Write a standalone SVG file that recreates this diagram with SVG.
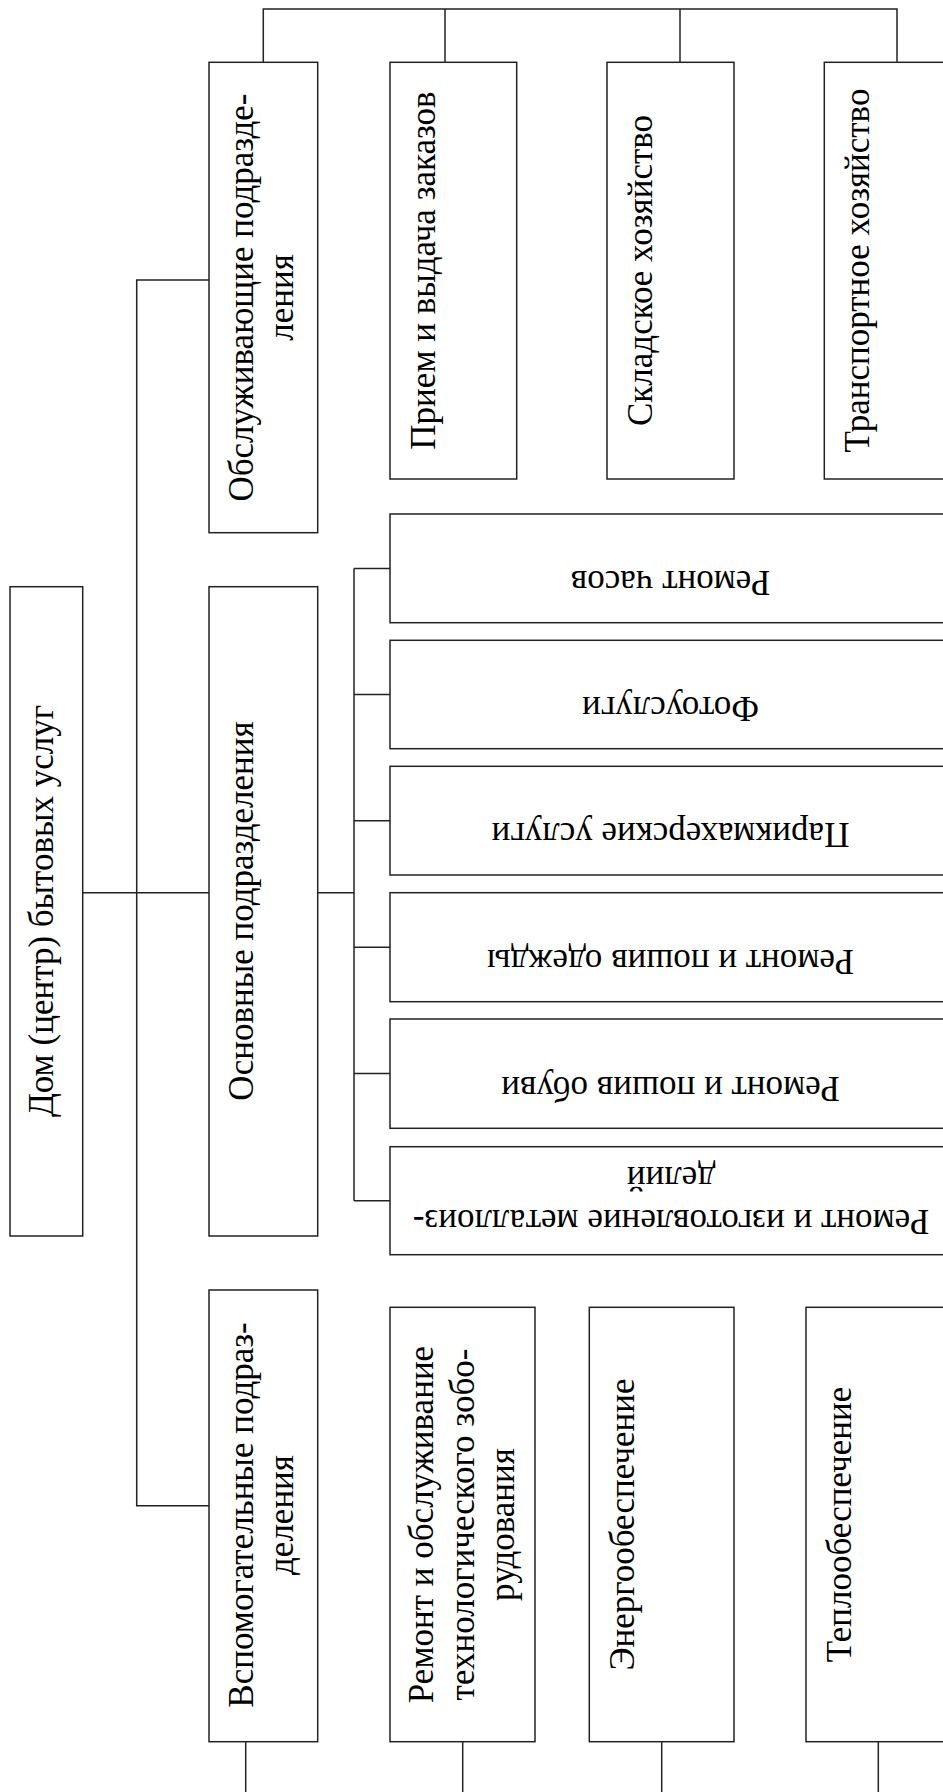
<svg xmlns="http://www.w3.org/2000/svg" width="943" height="1792" viewBox="0 0 943 1792">
<style>
.box{fill:#fff;stroke:#222;stroke-width:1.5}
.ln{fill:none;stroke:#222;stroke-width:1.5}
.t{font-family:"Liberation Serif","Times New Roman",serif;font-size:35px;fill:#000;text-anchor:middle}
</style>
<rect width="943" height="1792" fill="#fff"/>
<g id="connectors">
<polyline class="ln" points="263.3,62.3 263.3,9 897,9 897,62.3"/>
<line class="ln" x1="445" y1="9" x2="445" y2="62.3"/>
<line class="ln" x1="680" y1="9" x2="680" y2="62.3"/>
<polyline class="ln" points="209,280 136.7,280 136.7,1505.7 209,1505.7"/>
<line class="ln" x1="82.7" y1="892.7" x2="209" y2="892.7"/>
<line class="ln" x1="317.7" y1="892.7" x2="354" y2="892.7"/>
<line class="ln" x1="354" y1="568.4" x2="354" y2="1200.7"/>
<line class="ln" x1="354" y1="568.4" x2="390" y2="568.4"/>
<line class="ln" x1="354" y1="694.5" x2="390" y2="694.5"/>
<line class="ln" x1="354" y1="820.7" x2="390" y2="820.7"/>
<line class="ln" x1="354" y1="947.2" x2="390" y2="947.2"/>
<line class="ln" x1="354" y1="1073.5" x2="390" y2="1073.5"/>
<line class="ln" x1="354" y1="1200.7" x2="390" y2="1200.7"/>
<line class="ln" x1="245.7" y1="1741.7" x2="245.7" y2="1792"/>
<line class="ln" x1="462.7" y1="1741.7" x2="462.7" y2="1792"/>
<line class="ln" x1="661.7" y1="1741.7" x2="661.7" y2="1792"/>
<line class="ln" x1="878.3" y1="1741.7" x2="878.3" y2="1792"/>
</g>
<g id="n-dom">
<rect class="box" x="10" y="586.7" width="72.7" height="649.3"/>
<text class="t" transform="translate(53.3,911) rotate(-90)">Дом (центр) бытовых услуг</text>
</g>
<g id="n-obsl">
<rect class="box" x="209" y="62.3" width="108.7" height="470.4"/>
<text class="t" transform="translate(253.3,297.5) rotate(-90)">Обслуживающие подразде-</text>
<text class="t" transform="translate(293.3,297.5) rotate(-90)">ления</text>
</g>
<g id="n-osn">
<rect class="box" x="209" y="586.7" width="108.7" height="649.3"/>
<text class="t" transform="translate(253.3,911) rotate(-90)">Основные подразделения</text>
</g>
<g id="n-vsp">
<rect class="box" x="209" y="1290" width="108.7" height="451.7"/>
<text class="t" transform="translate(253.3,1515) rotate(-90)">Вспомогательные подраз-</text>
<text class="t" transform="translate(293.3,1515) rotate(-90)">деления</text>
</g>
<g id="n-priem">
<rect class="box" x="390" y="62.3" width="126.7" height="416.7"/>
<text class="t" transform="translate(435,270.5) rotate(-90)">Прием и выдача заказов</text>
</g>
<g id="n-sklad">
<rect class="box" x="607" y="62.3" width="127" height="416.7"/>
<text class="t" transform="translate(651.5,270.5) rotate(-90)">Складское хозяйство</text>
</g>
<g id="n-transp">
<rect class="box" x="824.3" y="62.3" width="127" height="416.7"/>
<text class="t" transform="translate(868.5,270.5) rotate(-90)">Транспортное хозяйство</text>
</g>
<g id="n-chasy">
<rect class="box" x="390" y="514" width="561" height="108.7"/>
<text class="t" transform="translate(670.5,570.5) rotate(180)">Ремонт часов</text>
</g>
<g id="n-foto">
<rect class="box" x="390" y="640.3" width="561" height="108.4"/>
<text class="t" transform="translate(670.5,697) rotate(180)">Фотоуслуги</text>
</g>
<g id="n-parik">
<rect class="box" x="390" y="766.3" width="561" height="108.7"/>
<text class="t" transform="translate(670.5,822.5) rotate(180)">Парикмахерские услуги</text>
</g>
<g id="n-odezhda">
<rect class="box" x="390" y="892.7" width="561" height="109"/>
<text class="t" transform="translate(670.5,949.5) rotate(180)">Ремонт и пошив одежды</text>
</g>
<g id="n-obuv">
<rect class="box" x="390" y="1019" width="561" height="109.3"/>
<text class="t" transform="translate(670.5,1076.5) rotate(180)">Ремонт и пошив обуви</text>
</g>
<g id="n-metall">
<rect class="box" x="390" y="1146.7" width="561" height="108"/>
<text class="t" transform="translate(671,1210) rotate(180)">Ремонт и изготовление металлоиз-</text>
<text class="t" transform="translate(671,1167) rotate(180)">делий</text>
</g>
<g id="n-remobor">
<rect class="box" x="390" y="1307.3" width="145" height="434.4"/>
<text class="t" transform="translate(433.3,1524.5) rotate(-90)">Ремонт и обслуживание</text>
<text class="t" transform="translate(473.5,1524.5) rotate(-90)">технологического зобо-</text>
<text class="t" transform="translate(514,1524.5) rotate(-90)">рудования</text>
</g>
<g id="n-energo">
<rect class="box" x="589.3" y="1307.3" width="144.7" height="434.4"/>
<text class="t" transform="translate(634,1524.5) rotate(-90)">Энергообеспечение</text>
</g>
<g id="n-teplo">
<rect class="box" x="806" y="1307.3" width="145" height="434.4"/>
<text class="t" transform="translate(850.5,1524.5) rotate(-90)">Теплообеспечение</text>
</g>
</svg>
